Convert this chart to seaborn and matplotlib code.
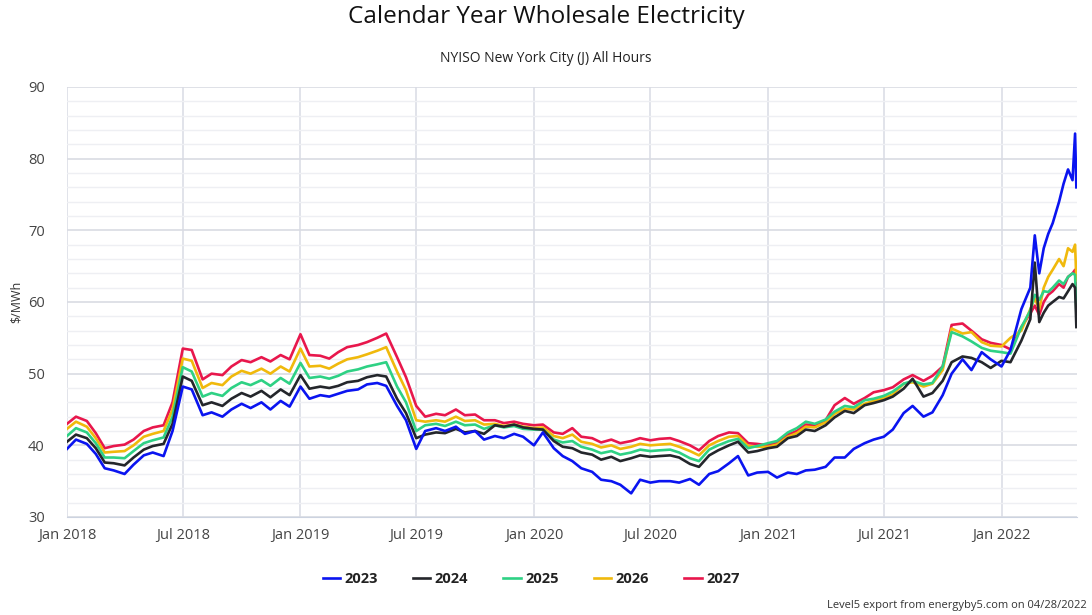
import pandas as pd
import numpy as np
import matplotlib
matplotlib.use("Agg")
import matplotlib.pyplot as plt
import matplotlib.dates as mdates
from matplotlib.ticker import MultipleLocator
import seaborn as sns

# sample dates (1st and 15th of each month, denser in 2022)
dates = pd.to_datetime(
    [f"{y}-{m:02d}-{d:02d}" for y in range(2018, 2022) for m in range(1, 13) for d in (1, 15)]
    + ["2022-01-01", "2022-01-15", "2022-02-01", "2022-02-15", "2022-02-22",
       "2022-03-01", "2022-03-08", "2022-03-15", "2022-03-22", "2022-04-01",
       "2022-04-08", "2022-04-15", "2022-04-22", "2022-04-26", "2022-04-28"]
)

cal_2023 = [39.5, 40.8, 40.2, 38.8, 36.8, 36.5, 36.0, 37.3, 38.6, 39.0, 38.5, 42.0,
            48.2, 47.8, 44.2, 44.6, 44.0, 45.0, 45.8, 45.2, 46.0, 45.0, 46.2, 45.4,
            48.2, 46.5, 47.0, 46.8, 47.2, 47.6, 47.8, 48.5, 48.7, 48.3, 45.5, 43.5,
            39.5, 42.0, 42.4, 42.0, 42.6, 41.6, 42.0, 40.8, 41.3, 41.0, 41.6, 41.2,
            40.0, 41.8, 39.6, 38.5, 37.8, 36.8, 36.3, 35.2, 35.0, 34.5, 33.3, 35.2,
            34.8, 35.0, 35.0, 34.8, 35.3, 34.5, 36.0, 36.4, 37.5, 38.5, 35.8, 36.2,
            36.3, 35.5, 36.2, 36.0, 36.5, 36.6, 37.0, 38.3, 38.3, 39.5, 40.3, 40.8,
            41.2, 42.2, 44.5, 45.5, 44.0, 44.6, 47.0, 50.0, 52.0, 50.5, 53.0, 52.0,
            51.0, 53.3, 59.0, 62.0, 69.3, 64.0, 67.5, 69.5, 71.0, 74.0, 76.5, 78.5,
            77.0, 83.5, 76.0]
cal_2024 = [40.5, 41.5, 41.0, 39.6, 37.6, 37.5, 37.2, 38.3, 39.4, 39.9, 40.2, 43.0,
            49.6, 49.0, 45.6, 46.0, 45.5, 46.5, 47.3, 46.8, 47.6, 46.7, 47.8, 47.0,
            49.8, 47.9, 48.2, 48.0, 48.3, 48.8, 49.0, 49.5, 49.8, 49.6, 46.5, 44.5,
            41.0, 41.5, 41.8, 41.7, 42.3, 41.8, 42.0, 41.6, 42.8, 42.6, 42.9, 42.5,
            42.3, 42.2, 40.6, 39.8, 39.6, 39.0, 38.7, 38.0, 38.4, 37.8, 38.2, 38.6,
            38.4, 38.5, 38.6, 38.3, 37.4, 37.0, 38.6, 39.3, 40.0, 40.5, 39.0, 39.2,
            39.6, 39.8, 41.0, 41.3, 42.2, 42.0, 42.8, 43.9, 44.8, 44.5, 45.6, 45.9,
            46.3, 46.8, 47.9, 49.3, 46.8, 47.3, 49.0, 51.6, 52.4, 52.2, 51.6, 50.8,
            51.8, 51.6, 54.6, 57.6, 65.5, 57.2, 58.5, 59.5, 60.0, 60.7, 60.5, 61.5,
            62.5, 62.0, 56.5]
cal_2025 = [41.3, 42.4, 41.8, 40.3, 38.3, 38.3, 38.2, 39.2, 40.3, 40.7, 41.1, 44.0,
            50.9, 50.3, 46.8, 47.3, 46.9, 48.0, 48.8, 48.4, 49.1, 48.3, 49.4, 48.6,
            51.5, 49.4, 49.6, 49.3, 49.7, 50.3, 50.6, 51.0, 51.3, 51.6, 48.2, 46.0,
            42.0, 42.8, 43.0, 42.7, 43.3, 42.8, 42.9, 42.3, 42.8, 42.5, 42.7, 42.3,
            42.2, 42.2, 40.8, 40.4, 40.6, 39.8, 39.4, 38.9, 39.2, 38.7, 39.0, 39.4,
            39.2, 39.3, 39.4, 39.0, 38.2, 37.8, 39.4, 40.0, 40.6, 40.9, 39.6, 39.9,
            40.3, 40.6, 41.8, 42.4, 43.3, 43.0, 43.6, 44.7, 45.5, 45.3, 46.3, 46.5,
            46.9, 47.5, 48.6, 49.0, 48.5, 48.7, 51.0, 55.8, 55.2, 54.5, 53.6, 53.2,
            53.0, 52.8, 56.5, 58.8, 61.0, 60.3, 61.5, 61.4, 62.0, 63.0, 62.5, 63.5,
            64.0, 63.8, 58.5]
cal_2026 = [42.3, 43.3, 42.6, 41.0, 39.0, 39.1, 39.2, 40.0, 41.2, 41.6, 42.0, 45.0,
            52.1, 51.8, 48.0, 48.7, 48.4, 49.6, 50.4, 50.0, 50.7, 50.0, 51.0, 50.3,
            53.5, 51.0, 51.1, 50.7, 51.4, 52.0, 52.3, 52.7, 53.2, 53.7, 50.3, 47.7,
            43.5, 43.3, 43.5, 43.3, 44.0, 43.4, 43.5, 42.9, 43.0, 42.7, 42.9, 42.6,
            42.4, 42.5, 41.3, 41.0, 41.5, 40.5, 40.2, 39.7, 40.0, 39.5, 39.8, 40.2,
            40.0, 40.1, 40.2, 39.8, 39.2, 38.6, 40.0, 40.6, 41.2, 41.3, 39.9, 39.8,
            39.8, 40.1, 41.2, 41.7, 42.6, 42.5, 43.2, 44.4, 45.1, 45.0, 45.8, 46.2,
            46.6, 47.1, 48.6, 48.8, 48.2, 48.6, 50.5, 56.3, 55.6, 55.8, 54.4, 53.9,
            53.8, 55.0, 56.0, 59.0, 60.5, 59.0, 62.0, 63.5, 64.5, 66.0, 65.0, 67.5,
            67.0, 68.0, 63.0]
cal_2027 = [43.0, 44.0, 43.4, 41.7, 39.6, 39.9, 40.1, 40.8, 42.0, 42.5, 42.8, 46.0,
            53.5, 53.3, 49.2, 50.0, 49.8, 51.0, 51.9, 51.6, 52.3, 51.7, 52.6, 52.0,
            55.5, 52.6, 52.5, 52.1, 53.0, 53.7, 54.0, 54.4, 55.0, 55.6, 52.3, 49.5,
            45.5, 44.0, 44.4, 44.2, 45.0, 44.2, 44.3, 43.5, 43.5, 43.1, 43.3, 43.0,
            42.8, 42.9, 41.8, 41.6, 42.4, 41.2, 41.0, 40.4, 40.8, 40.3, 40.6, 41.0,
            40.7, 40.9, 41.0, 40.6, 40.0, 39.3, 40.6, 41.3, 41.8, 41.7, 40.3, 40.2,
            40.0, 40.4, 41.5, 42.0, 42.9, 42.8, 43.5, 45.6, 46.6, 45.8, 46.6, 47.4,
            47.7, 48.1, 49.2, 49.8, 49.0, 49.7, 51.0, 56.8, 57.0, 56.0, 54.8, 54.3,
            54.0, 53.4, 56.5, 58.4, 59.5, 58.2, 60.0, 61.0, 61.5, 62.5, 62.0, 63.5,
            64.0, 64.5, 60.0]

labels = ["2023", "2024", "2025", "2026", "2027"]
colors = ["#0a14f0", "#24262b", "#2ed184", "#f0b90c", "#e8174c"]
series = [cal_2023, cal_2024, cal_2025, cal_2026, cal_2027]

plt.rcParams['font.family'] = ['Open Sans', 'DejaVu Sans']

fig = plt.figure(figsize=(10.92, 6.15), dpi=100)
ax = fig.add_axes([67 / 1092, 98 / 615, 1010 / 1092, 430 / 615])

# draw 2027 first so 2023 ends up on top, like the original
for lab, col, vals, z in reversed(list(zip(labels, colors, series, range(5, 0, -1)))):
    sns.lineplot(x=dates, y=vals, color=col, linewidth=1.9, label=lab, ax=ax, zorder=z)

ax.set_ylim(30, 90)
ax.set_xlim(pd.Timestamp("2018-01-01"), pd.Timestamp("2022-04-29"))
ax.yaxis.set_major_locator(MultipleLocator(10))
ax.yaxis.set_minor_locator(MultipleLocator(2))
ax.xaxis.set_major_locator(mdates.MonthLocator(bymonth=[1, 7]))
ax.xaxis.set_major_formatter(mdates.DateFormatter("%b %Y"))
ax.grid(which="major", axis="y", color="#d9dbe3", linewidth=1.2)
ax.grid(which="minor", axis="y", color="#eeeff3", linewidth=1.0)
ax.grid(which="major", axis="x", color="#dcdee6", linewidth=1.2)
ax.set_axisbelow(True)
for s in ["top", "right", "left"]:
    ax.spines[s].set_visible(False)
ax.spines["bottom"].set_color("#ccd3e0")
ax.tick_params(axis="both", which="both", length=0, labelsize=10.5, colors="#444444")
ax.tick_params(axis="x", pad=8)
ax.tick_params(axis="y", pad=16)
ax.set_xlabel("")
ax.set_ylabel("$/MWh", fontsize=9, color="#333333", labelpad=4)

fig.text(0.5, 0.972, "Calendar Year Wholesale Electricity", ha="center", va="center",
         fontsize=17.5, color="#111111")
fig.text(0.5, 0.905, "NYISO New York City (J) All Hours", ha="center", va="center",
         fontsize=10, color="#222222")
fig.text(0.995, 0.016, "Level5 export from energyby5.com on 04/28/2022", ha="right",
         va="center", fontsize=8, color="#333333")

handles, labs = ax.get_legend_handles_labels()
order = [labs.index(l) for l in labels]
leg = ax.legend([handles[i] for i in order], labels, loc="center",
                bbox_to_anchor=(531 / 1092, 36 / 615), bbox_transform=fig.transFigure,
                ncol=5, frameon=False, fontsize=10.5, handlelength=1.2, columnspacing=2.4,
                handletextpad=0.3)
for t in leg.get_texts():
    t.set_fontweight("bold")
    t.set_color("#222222")

fig.savefig("out.png", dpi=100)
